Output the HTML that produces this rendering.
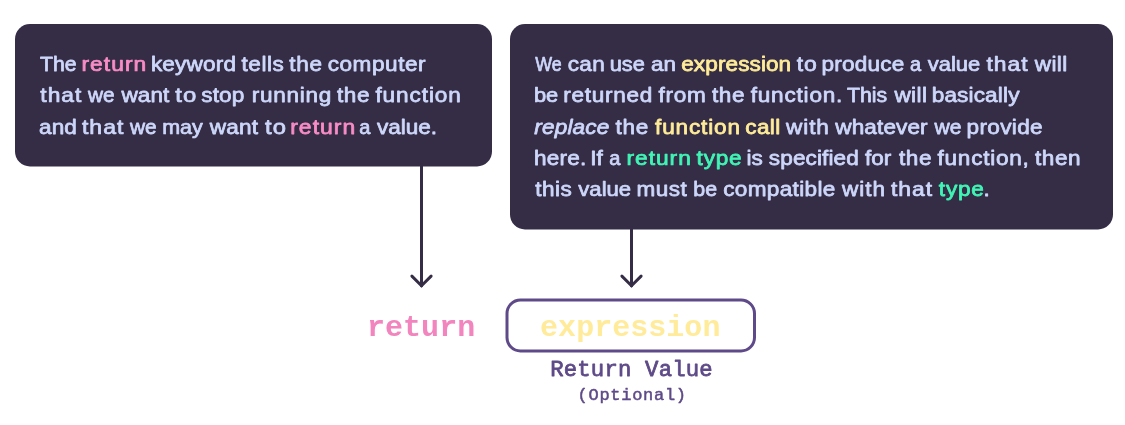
<!DOCTYPE html>
<html lang="en">
<head>
<meta charset="utf-8">
<title>return statement</title>
<style>
html,body{margin:0;padding:0;background:#fff;}
body{width:1125px;height:425px;position:relative;overflow:hidden;font-family:"Liberation Sans", sans-serif;}
svg{position:absolute;left:0;top:0;will-change:transform;}
text{font-family:"Liberation Sans", sans-serif;white-space:pre;stroke-linejoin:round;}
text.m{font-family:"Liberation Mono", monospace;}
text.b{font-weight:700;}
text.i{font-style:italic;}
</style>
</head>
<body>
<svg width="1125" height="425" viewBox="0 0 1125 425" fill="none" stroke="#352c46" stroke-width="3" stroke-linecap="round" stroke-linejoin="miter">
<rect x="15" y="24" width="477" height="142.5" rx="15" ry="15" fill="#352c46" stroke="none"/>
<rect x="510" y="24" width="603" height="205.5" rx="15" ry="15" fill="#352c46" stroke="none"/>
<path d="M421.5 165 V285.7"/>
<path d="M411.9 276.1 L421.5 285.7 L431.1 276.1"/>
<path d="M631.5 228 V285.7"/>
<rect x="507" y="300" width="247.5" height="51" rx="13.5" ry="13.5" stroke="#5e4a88"/>
<path d="M621.9 276.1 L631.5 285.7 L641.1 276.1"/>
</svg>
<svg width="1125" height="425" viewBox="0 0 1125 425">
<text transform="translate(39.97 71.00) scale(1.0619 1)" font-size="20" fill="#cdd7fa" stroke="#cdd7fa" stroke-width="0.75">The</text>
<text transform="translate(81.50 71.00) scale(1.1411 1)" font-size="20" fill="#f78cc6" letter-spacing="0.900" stroke="#f78cc6" stroke-width="0.75">return</text>
<text transform="translate(150.91 71.00) scale(1.1300 1)" font-size="20" fill="#cdd7fa" letter-spacing="0.145" stroke="#cdd7fa" stroke-width="0.75">keyword</text>
<text transform="translate(241.52 71.00) scale(1.1300 1)" font-size="20" fill="#cdd7fa" letter-spacing="0.458" stroke="#cdd7fa" stroke-width="0.75">tells</text>
<text transform="translate(289.32 71.00) scale(1.1300 1)" font-size="20" fill="#cdd7fa" letter-spacing="0.642" stroke="#cdd7fa" stroke-width="0.75">the</text>
<text transform="translate(327.72 71.00) scale(1.1300 1)" font-size="20" fill="#cdd7fa" letter-spacing="0.463" stroke="#cdd7fa" stroke-width="0.75">computer</text>
<text transform="translate(40.33 102.00) scale(1.1389 1)" font-size="20" fill="#cdd7fa" letter-spacing="0.900" stroke="#cdd7fa" stroke-width="0.75">that</text>
<text transform="translate(88.11 102.00) scale(1.0380 1)" font-size="20" fill="#cdd7fa" stroke="#cdd7fa" stroke-width="0.75">we</text>
<text transform="translate(121.38 102.00) scale(1.1300 1)" font-size="20" fill="#cdd7fa" letter-spacing="0.084" stroke="#cdd7fa" stroke-width="0.75">want</text>
<text transform="translate(175.25 102.00) scale(1.1930 1)" font-size="20" fill="#cdd7fa" letter-spacing="0.900" stroke="#cdd7fa" stroke-width="0.75">to</text>
<text transform="translate(201.27 102.00) scale(1.1300 1)" font-size="20" fill="#cdd7fa" letter-spacing="0.090" stroke="#cdd7fa" stroke-width="0.75">stop</text>
<text transform="translate(251.81 102.00) scale(1.1300 1)" font-size="20" fill="#cdd7fa" letter-spacing="0.626" stroke="#cdd7fa" stroke-width="0.75">running</text>
<text transform="translate(336.92 102.00) scale(1.1300 1)" font-size="20" fill="#cdd7fa" letter-spacing="0.598" stroke="#cdd7fa" stroke-width="0.75">the</text>
<text transform="translate(375.42 102.00) scale(1.1300 1)" font-size="20" fill="#cdd7fa" letter-spacing="0.805" stroke="#cdd7fa" stroke-width="0.75">function</text>
<text transform="translate(39.02 134.00) scale(1.1300 1)" font-size="20" fill="#cdd7fa" letter-spacing="0.098" stroke="#cdd7fa" stroke-width="0.75">and</text>
<text transform="translate(81.93 134.00) scale(1.1525 1)" font-size="20" fill="#cdd7fa" letter-spacing="0.900" stroke="#cdd7fa" stroke-width="0.75">that</text>
<text transform="translate(130.02 134.00) scale(1.0419 1)" font-size="20" fill="#cdd7fa" stroke="#cdd7fa" stroke-width="0.75">we</text>
<text transform="translate(162.16 134.00) scale(1.0756 1)" font-size="20" fill="#cdd7fa" stroke="#cdd7fa" stroke-width="0.75">may</text>
<text transform="translate(209.78 134.00) scale(1.1300 1)" font-size="20" fill="#cdd7fa" letter-spacing="0.172" stroke="#cdd7fa" stroke-width="0.75">want</text>
<text transform="translate(265.05 134.00) scale(1.1873 1)" font-size="20" fill="#cdd7fa" letter-spacing="0.900" stroke="#cdd7fa" stroke-width="0.75">to</text>
<text transform="translate(290.20 134.00) scale(1.1465 1)" font-size="20" fill="#f78cc6" letter-spacing="0.900" stroke="#f78cc6" stroke-width="0.75">return</text>
<text transform="translate(359.21 134.00)" font-size="20" fill="#cdd7fa" stroke="#cdd7fa" stroke-width="0.75">a</text>
<text transform="translate(376.92 134.00) scale(1.1278 1)" font-size="20" fill="#cdd7fa" stroke="#cdd7fa" stroke-width="0.75">value.</text>
<text transform="translate(535.23 71.00) scale(0.8926 1)" font-size="20" fill="#cdd7fa" stroke="#cdd7fa" stroke-width="0.75">We</text>
<text transform="translate(567.82 71.00) scale(1.1300 1)" font-size="20" fill="#cdd7fa" letter-spacing="0.217" stroke="#cdd7fa" stroke-width="0.75">can</text>
<text transform="translate(609.64 71.00) scale(1.0926 1)" font-size="20" fill="#cdd7fa" stroke="#cdd7fa" stroke-width="0.75">use</text>
<text transform="translate(650.92 71.00) scale(1.1248 1)" font-size="20" fill="#cdd7fa" stroke="#cdd7fa" stroke-width="0.75">an</text>
<text transform="translate(681.22 71.00) scale(1.1300 1)" font-size="20" fill="#ffec99" letter-spacing="0.072" stroke="#ffec99" stroke-width="0.75">expression</text>
<text transform="translate(796.63 71.00) scale(1.1473 1)" font-size="20" fill="#cdd7fa" letter-spacing="0.900" stroke="#cdd7fa" stroke-width="0.75">to</text>
<text transform="translate(821.51 71.00) scale(1.1300 1)" font-size="20" fill="#cdd7fa" letter-spacing="0.178" stroke="#cdd7fa" stroke-width="0.75">produce</text>
<text transform="translate(910.06 71.00)" font-size="20" fill="#cdd7fa" stroke="#cdd7fa" stroke-width="0.75">a</text>
<text transform="translate(927.81 71.00) scale(1.0973 1)" font-size="20" fill="#cdd7fa" stroke="#cdd7fa" stroke-width="0.75">value</text>
<text transform="translate(986.43 71.00) scale(1.1416 1)" font-size="20" fill="#cdd7fa" letter-spacing="0.900" stroke="#cdd7fa" stroke-width="0.75">that</text>
<text transform="translate(1034.68 71.00) scale(1.1300 1)" font-size="20" fill="#cdd7fa" letter-spacing="0.355" stroke="#cdd7fa" stroke-width="0.75">will</text>
<text transform="translate(533.94 102.00) scale(1.0938 1)" font-size="20" fill="#cdd7fa" stroke="#cdd7fa" stroke-width="0.75">be</text>
<text transform="translate(563.21 102.00) scale(1.1300 1)" font-size="20" fill="#cdd7fa" letter-spacing="0.639" stroke="#cdd7fa" stroke-width="0.75">returned</text>
<text transform="translate(658.52 102.00) scale(1.1300 1)" font-size="20" fill="#cdd7fa" letter-spacing="0.597" stroke="#cdd7fa" stroke-width="0.75">from</text>
<text transform="translate(711.92 102.00) scale(1.1300 1)" font-size="20" fill="#cdd7fa" letter-spacing="0.598" stroke="#cdd7fa" stroke-width="0.75">the</text>
<text transform="translate(750.72 102.00) scale(1.1300 1)" font-size="20" fill="#cdd7fa" letter-spacing="0.692" stroke="#cdd7fa" stroke-width="0.75">function.</text>
<text transform="translate(847.07 102.00) scale(1.0640 1)" font-size="20" fill="#cdd7fa" stroke="#cdd7fa" stroke-width="0.75">This</text>
<text transform="translate(894.38 102.00) scale(1.1300 1)" font-size="20" fill="#cdd7fa" letter-spacing="0.355" stroke="#cdd7fa" stroke-width="0.75">will</text>
<text transform="translate(931.71 102.00) scale(1.1300 1)" font-size="20" fill="#cdd7fa" letter-spacing="0.121" stroke="#cdd7fa" stroke-width="0.75">basically</text>
<text transform="translate(534.37 134.00) scale(1.1300 1)" font-size="20" fill="#cdd7fa" letter-spacing="0.125" stroke="#cdd7fa" stroke-width="0.75" class="i">replace</text>
<text transform="translate(615.52 134.00) scale(1.1300 1)" font-size="20" fill="#cdd7fa" letter-spacing="0.642" stroke="#cdd7fa" stroke-width="0.75">the</text>
<text transform="translate(655.02 134.00) scale(1.1300 1)" font-size="20" fill="#ffec99" letter-spacing="0.742" stroke="#ffec99" stroke-width="0.75">function</text>
<text transform="translate(745.32 134.00) scale(1.1300 1)" font-size="20" fill="#ffec99" letter-spacing="0.306" stroke="#ffec99" stroke-width="0.75">call</text>
<text transform="translate(785.88 134.00) scale(1.1300 1)" font-size="20" fill="#cdd7fa" letter-spacing="0.849" stroke="#cdd7fa" stroke-width="0.75">with</text>
<text transform="translate(835.28 134.00) scale(1.1300 1)" font-size="20" fill="#cdd7fa" letter-spacing="0.089" stroke="#cdd7fa" stroke-width="0.75">whatever</text>
<text transform="translate(934.62 134.00) scale(1.0535 1)" font-size="20" fill="#cdd7fa" stroke="#cdd7fa" stroke-width="0.75">we</text>
<text transform="translate(966.51 134.00) scale(1.1300 1)" font-size="20" fill="#cdd7fa" letter-spacing="0.304" stroke="#cdd7fa" stroke-width="0.75">provide</text>
<text transform="translate(533.91 165.00) scale(1.1300 1)" font-size="20" fill="#cdd7fa" letter-spacing="0.220" stroke="#cdd7fa" stroke-width="0.75">here.</text>
<text transform="translate(590.26 165.00) scale(1.1283 1)" font-size="20" fill="#cdd7fa" stroke="#cdd7fa" stroke-width="0.75">If</text>
<text transform="translate(609.31 165.00)" font-size="20" fill="#cdd7fa" stroke="#cdd7fa" stroke-width="0.75">a</text>
<text transform="translate(626.41 165.00) scale(1.1356 1)" font-size="20" fill="#40f5b5" letter-spacing="0.900" stroke="#40f5b5" stroke-width="0.75">return</text>
<text transform="translate(696.62 165.00) scale(1.1300 1)" font-size="20" fill="#40f5b5" letter-spacing="0.694" stroke="#40f5b5" stroke-width="0.75">type</text>
<text transform="translate(746.51 165.00) scale(1.1300 1)" font-size="20" fill="#cdd7fa" letter-spacing="0.044" stroke="#cdd7fa" stroke-width="0.75">is</text>
<text transform="translate(768.87 165.00) scale(1.1300 1)" font-size="20" fill="#cdd7fa" letter-spacing="0.086" stroke="#cdd7fa" stroke-width="0.75">specified</text>
<text transform="translate(865.02 165.00) scale(1.1254 1)" font-size="20" fill="#cdd7fa" stroke="#cdd7fa" stroke-width="0.75">for</text>
<text transform="translate(898.92 165.00) scale(1.1300 1)" font-size="20" fill="#cdd7fa" letter-spacing="0.598" stroke="#cdd7fa" stroke-width="0.75">the</text>
<text transform="translate(937.52 165.00) scale(1.1300 1)" font-size="20" fill="#cdd7fa" letter-spacing="0.653" stroke="#cdd7fa" stroke-width="0.75">function,</text>
<text transform="translate(1034.92 165.00) scale(1.1300 1)" font-size="20" fill="#cdd7fa" letter-spacing="0.512" stroke="#cdd7fa" stroke-width="0.75">then</text>
<text transform="translate(535.32 196.00) scale(1.1300 1)" font-size="20" fill="#cdd7fa" letter-spacing="0.410" stroke="#cdd7fa" stroke-width="0.75">this</text>
<text transform="translate(578.31 196.00) scale(1.1057 1)" font-size="20" fill="#cdd7fa" stroke="#cdd7fa" stroke-width="0.75">value</text>
<text transform="translate(636.51 196.00) scale(1.1300 1)" font-size="20" fill="#cdd7fa" letter-spacing="0.417" stroke="#cdd7fa" stroke-width="0.75">must</text>
<text transform="translate(693.36 196.00) scale(1.0700 1)" font-size="20" fill="#cdd7fa" stroke="#cdd7fa" stroke-width="0.75">be</text>
<text transform="translate(723.22 196.00) scale(1.1300 1)" font-size="20" fill="#cdd7fa" letter-spacing="0.283" stroke="#cdd7fa" stroke-width="0.75">compatible</text>
<text transform="translate(841.98 196.00) scale(1.1300 1)" font-size="20" fill="#cdd7fa" letter-spacing="0.879" stroke="#cdd7fa" stroke-width="0.75">with</text>
<text transform="translate(890.93 196.00) scale(1.1416 1)" font-size="20" fill="#cdd7fa" letter-spacing="0.900" stroke="#cdd7fa" stroke-width="0.75">that</text>
<text transform="translate(938.82 196.00) scale(1.1300 1)" font-size="20" fill="#40f5b5" letter-spacing="0.694" stroke="#40f5b5" stroke-width="0.75">type</text>
<text transform="translate(983.47 196.00) scale(1.1234 1)" font-size="20" fill="#cdd7fa" stroke="#cdd7fa" stroke-width="0.75">.</text>
<text transform="translate(366.99 335.80)" font-size="30" fill="#f284be" letter-spacing="0.038" class="m b">return</text>
<text transform="translate(540.09 335.80)" font-size="30" fill="#ffeb99" letter-spacing="0.030" class="m b">expression</text>
<text transform="translate(550.15 376.30) scale(0.9700 1)" font-size="23" fill="#5e4a88" letter-spacing="0.187" stroke="#5e4a88" stroke-width="0.8" class="m">Return Value</text>
<text transform="translate(577.59 399.90)" font-size="17" fill="#5e4a88" letter-spacing="0.712" stroke="#5e4a88" stroke-width="0.5" class="m">(Optional)</text>
</svg>
</body>
</html>
